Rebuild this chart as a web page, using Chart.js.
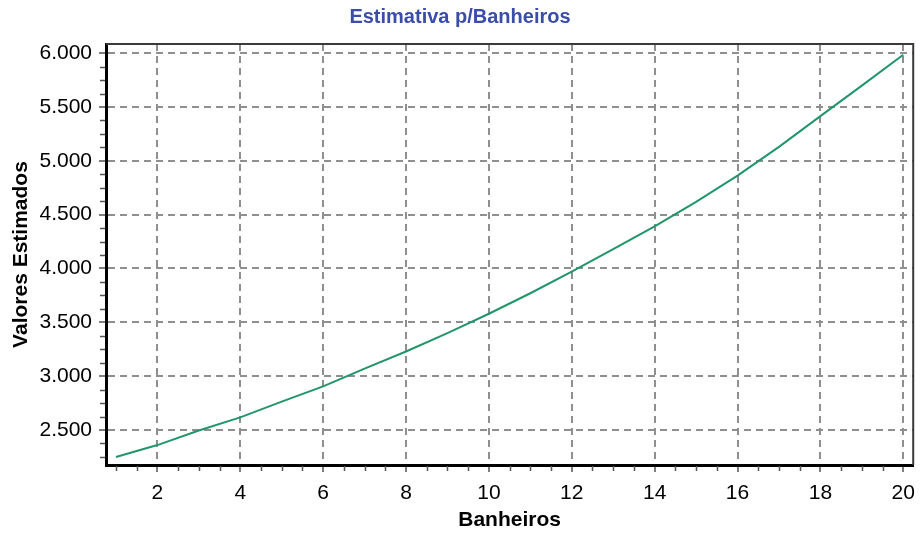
<!DOCTYPE html>
<html>
<head>
<meta charset="utf-8">
<script src="https://cdn.jsdelivr.net/npm/chart.js@4/dist/chart.umd.min.js"></script>
<style>
  html, body { margin: 0; padding: 0; background: #fff; }
</style>
</head>
<body>
<canvas id="chart" width="924" height="535"></canvas>
<script>
// dados
const banheiros = [1, 2, 3, 4, 5, 6, 7, 8, 9, 10, 11, 12, 13, 14, 15, 16, 17, 18, 19, 20];
const valores = [2250, 2360, 2495, 2617, 2763, 2905, 3070, 3229, 3400, 3580, 3770, 3970, 4180, 4392, 4618, 4862, 5130, 5415, 5698, 5985];
const xTicks = [2, 4, 6, 8, 10, 12, 14, 16, 18, 20];
const yTicks = [2500, 3000, 3500, 4000, 4500, 5000, 5500, 6000];

const fmt = v => String(v).replace(/\B(?=(\d{3})+(?!\d))/g, '.');
const FONT = "'Liberation Sans', Arial, sans-serif";

const frame = {
    id: 'frame',
    beforeDraw(chart) {
        const ctx = chart.ctx;
        ctx.save();
        ctx.fillStyle = '#fff';
        ctx.fillRect(0, 0, chart.width, chart.height);
        ctx.restore();
    },
    afterDraw(chart) {
        const { ctx, chartArea: a, scales: { x, y } } = chart;
        ctx.save();
        // top and right border
        ctx.strokeStyle = '#3a3a3a';
        ctx.lineWidth = 2;
        ctx.beginPath();
        ctx.moveTo(a.left, a.top);
        ctx.lineTo(a.right, a.top);
        ctx.lineTo(a.right, a.bottom);
        ctx.stroke();
        // minor ticks
        ctx.strokeStyle = '#555';
        ctx.lineWidth = 1.5;
        ctx.beginPath();
        for (let v = 1; v <= 20; v += 0.5) {
            if (v % 2 === 0) continue;
            const px = Math.round(x.getPixelForValue(v)) + 0.5;
            ctx.moveTo(px, a.bottom + 1);
            ctx.lineTo(px, a.bottom + 6);
        }
        for (let v = 2250; v <= 6000; v += 125) {
            if (v % 500 === 0) continue;
            const py = Math.round(y.getPixelForValue(v)) + 0.5;
            ctx.moveTo(a.left - 6, py);
            ctx.lineTo(a.left - 1, py);
        }
        ctx.stroke();
        ctx.restore();
    }
};

const gridStyle = {
    color: '#8f8f8f',
    lineWidth: 2,
    tickLength: 7,
    tickColor: '#555',
    tickWidth: 1.5
};

new Chart(document.getElementById('chart').getContext('2d'), {
    type: 'line',
    data: {
        datasets: [{
            label: 'Valores Estimados',
            data: banheiros.map((b, i) => ({ x: b, y: valores[i] })),
            borderColor: '#23956a',
            borderWidth: 2,
            pointRadius: 0,
            tension: 0,
            fill: false
        }]
    },
    options: {
        responsive: false,
        animation: false,
        layout: { padding: { left: 0, right: 4, top: 0, bottom: 0 } },
        plugins: {
            legend: { display: false },
            tooltip: { enabled: false },
            title: {
                display: true,
                text: 'Estimativa p/Banheiros',
                color: '#3b4da8',
                font: { family: FONT, size: 20, weight: 'bold' },
                padding: { top: 5, bottom: 15 }
            }
        },
        scales: {
            x: {
                type: 'linear',
                min: 0.76,
                max: 20.24,
                afterBuildTicks: s => { s.ticks = xTicks.map(v => ({ value: v })); },
                afterFit: s => { s.height = 70; },
                grid: gridStyle,
                border: { display: true, color: '#000', width: 3, dash: [7, 5] },
                ticks: {
                    color: '#000',
                    padding: 9,
                    maxRotation: 0,
                    font: { family: FONT, size: 21 }
                },
                title: {
                    display: true,
                    text: 'Banheiros',
                    color: '#000',
                    font: { family: FONT, size: 21, weight: 'bold' },
                    padding: { top: 0, bottom: 2 }
                }
            },
            y: {
                type: 'linear',
                min: 2175,
                max: 6085,
                afterBuildTicks: s => { s.ticks = yTicks.map(v => ({ value: v })); },
                afterFit: s => { s.width = 106; },
                grid: gridStyle,
                border: { display: true, color: '#000', width: 3, dash: [7, 5] },
                ticks: {
                    color: '#000',
                    padding: 7,
                    font: { family: FONT, size: 21 },
                    callback: v => fmt(v)
                },
                title: {
                    display: true,
                    text: 'Valores Estimados',
                    color: '#000',
                    font: { family: FONT, size: 21, weight: 'bold' },
                    padding: { top: 9, bottom: 0 }
                }
            }
        }
    },
    plugins: [frame]
});
</script>
</body>
</html>
